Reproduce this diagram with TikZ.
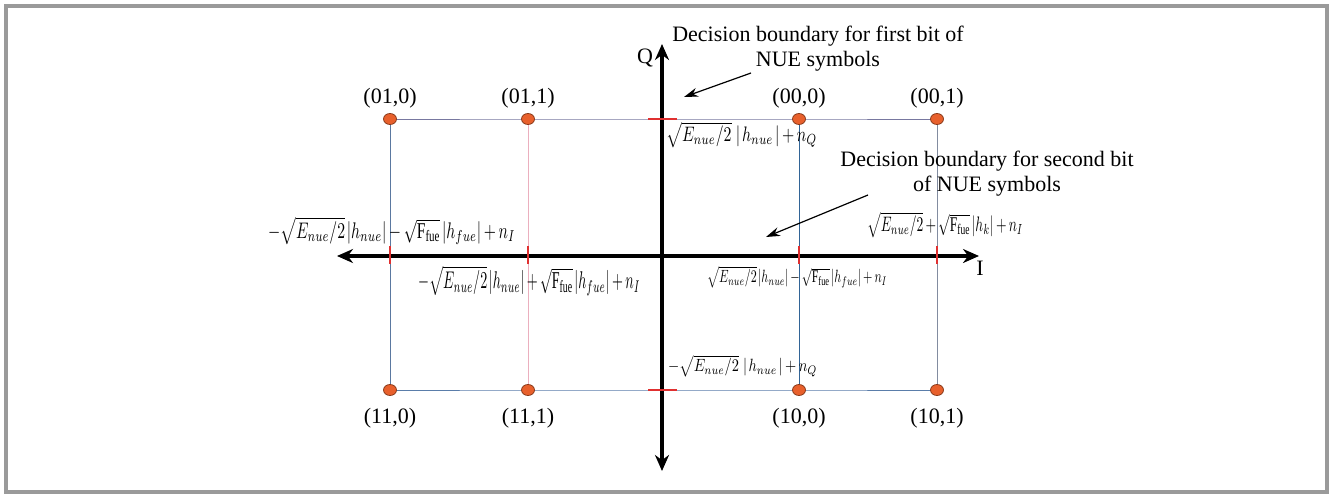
\documentclass[tikz,border=0pt]{standalone}
\usepackage{fontspec}
\setmainfont{Liberation Serif}
\usepackage{graphicx}
\usetikzlibrary{arrows.meta,shapes.geometric}
\definecolor{dotfill}{HTML}{E8602C}
\definecolor{dotline}{HTML}{8A3A1A}
\definecolor{framegray}{HTML}{9A9A9A}
\definecolor{tickred}{HTML}{E03030}
\newcommand{\fbx}[3]{\resizebox*{#1}{#2}{$\medmuskip=3mu\thinmuskip=2mu #3$}}
\begin{document}
\begin{tikzpicture}[x=1pt,y=-1pt,
  txt/.style={font=\fontsize{22}{25}\selectfont, inner sep=0pt},
  dot/.style={ellipse, draw=dotline, fill=dotfill, line width=0.8pt, minimum width=13pt, minimum height=11pt, inner sep=0pt},
  axis/.style={line width=3.5pt, {Stealth[length=16pt,width=14pt]}-{Stealth[length=16pt,width=14pt]}},
  callout/.style={line width=1.2pt, -{Stealth[length=14pt,width=9pt]}},
  tick/.style={draw=tickred, line width=2pt},
  grid/.style={line width=1pt},
  frm/.style={inner sep=0pt, anchor=west}
]
\useasboundingbox (0,0) rectangle (1333,498);
\draw[framegray, line width=4.5pt] (6,6) rectangle (1327,492);

% coordinates of constellation points
\coordinate (a010) at (390,119); \coordinate (a011) at (528,119);
\coordinate (a000) at (799,119); \coordinate (a001) at (937,119);
\coordinate (a110) at (390,390); \coordinate (a111) at (528,390);
\coordinate (a100) at (799,390); \coordinate (a101) at (937,390);

% grid lines
\draw[grid, color={rgb,255:red,120;green,120;blue,160}] (a010) -- (a011) -- (a000) -- (a001);
\draw[grid, color={rgb,255:red,90;green,125;blue,170}] (a110) -- (a111) -- (a100) -- (a101);
\draw[grid, color={rgb,255:red,90;green,120;blue,160}] (a010) -- (a110);
\draw[grid, color={rgb,255:red,235;green,175;blue,190}] (a011) -- (a111);
\draw[grid, color={rgb,255:red,50;green,100;blue,150}] (a000) -- (a100);
\draw[grid, color={rgb,255:red,130;green,140;blue,160}] (a001) -- (a101);

% axes
\coordinate (il) at (337,256); \coordinate (ir) at (979,256);
\coordinate (qt) at (662,44); \coordinate (qb) at (662,471);
\draw[axis] (il) -- (ir);
\draw[axis] (qb) -- (qt);

% red ticks
\foreach \x/\n in {390/t1,528/t2,799/t3,937/t4}{
  \coordinate (\n u) at (\x,246); \coordinate (\n d) at (\x,264);
  \draw[tick] (\n u) -- (\n d);
}
\coordinate (qtl) at (648,119); \coordinate (qtr) at (677,119);
\coordinate (qbl) at (648,390); \coordinate (qbr) at (677,390);
\draw[tick] (qtl) -- (qtr);
\draw[tick] (qbl) -- (qbr);

% dots
\foreach \n in {a010,a011,a000,a001,a110,a111,a100,a101}{
  \node[dot] (d\n) at (\n) {};
}

% point labels
\node[txt] (l010) at (390,98) {(01,0)};
\node[txt] (l011) at (528,98) {(01,1)};
\node[txt] (l000) at (799,98) {(00,0)};
\node[txt] (l001) at (937,98) {(00,1)};
\node[txt] (l110) at (390,418) {(11,0)};
\node[txt] (l111) at (528,418) {(11,1)};
\node[txt] (l100) at (799,418) {(10,0)};
\node[txt] (l101) at (937,418) {(10,1)};

% axis labels
\node[txt] (lq) at (645,58) {Q};
\node[txt] (li) at (980,268) {I};

% callouts
\node[txt, align=center] (c1) at (818,49) {Decision boundary for first bit of\\NUE symbols};
\node[txt, align=center] (c2) at (987,174) {Decision boundary for second bit\\of NUE symbols};
\coordinate (c1s) at (751,73); \coordinate (c1e) at (684,97);
\coordinate (c2s) at (868,195); \coordinate (c2e) at (766,237);
\draw[callout] (c1s) -- (c1e);
\draw[callout] (c2s) -- (c2e);

% formulas
\node[frm] (f1) at (666,135) {\fbx{151pt}{26pt}{\sqrt{E_{nue}/2}\;|\,h_{nue}\,|+n_Q}};
\node[frm] (f2) at (668,366) {\fbx{149pt}{22pt}{-\sqrt{E_{nue}/2}\;|\,h_{nue}\,|+n_Q}};
\node[frm] (f3) at (268,231) {\fbx{247pt}{28pt}{-\sqrt{E_{nue}/2}\,|h_{nue}|-\sqrt{\mathrm{F}_{\mathrm{fue}}}\,|h_{fue}|+n_I}};
\node[frm] (f4) at (418,281) {\fbx{222pt}{30pt}{-\sqrt{E_{nue}/2}\,|h_{nue}|+\sqrt{\mathrm{F}_{\mathrm{fue}}}\,|h_{fue}|+n_I}};
\node[frm] (f5) at (707,277) {\fbx{180pt}{22pt}{\sqrt{E_{nue}/2}\,|h_{nue}|-\sqrt{\mathrm{F}_{\mathrm{fue}}}\,|h_{fue}|+n_I}};
\node[frm] (f6) at (867,225) {\fbx{156pt}{26pt}{\sqrt{E_{nue}/2}+\sqrt{\mathrm{F}_{\mathrm{fue}}}\,|h_{k}|+n_I}};
\end{tikzpicture}
\end{document}
